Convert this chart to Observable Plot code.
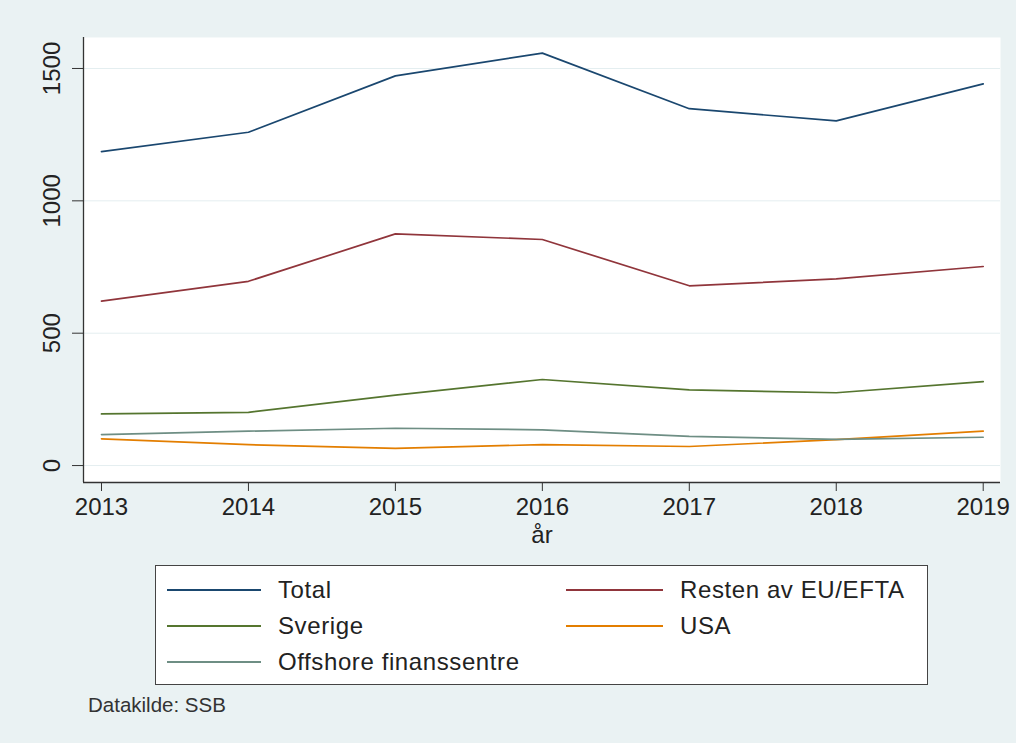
<!DOCTYPE html>
<html>
<head>
<meta charset="utf-8">
<script src="https://cdn.jsdelivr.net/npm/d3@7"></script>
<script src="https://cdn.jsdelivr.net/npm/@observablehq/plot@0.6"></script>
<style>
  html, body { margin: 0; padding: 0; background: #eaf2f3; }
  body { width: 1016px; height: 743px; position: relative; overflow: hidden;
         font-family: "Liberation Sans", Arial, sans-serif; color: #222; }
  #chart { position: absolute; left: 0; top: 0; }
  #legend { position: absolute; left: 155px; top: 565px; width: 771px; height: 118px;
            border: 1px solid #444; background: #fff; }
  .item { position: absolute; display: flex; align-items: center; height: 36px; font-size: 24px; letter-spacing: 0.6px; }
  .item .sw { display: inline-block; height: 2px; margin-right: 17px; }
  #caption { position: absolute; left: 88px; top: 693px; font-size: 20.5px; color: #333; }
</style>
</head>
<body>
<div id="chart"></div>
<div id="legend"></div>
<div id="caption">Datakilde: SSB</div>
<script>
const years = [2013, 2014, 2015, 2016, 2017, 2018, 2019];
const total    = [1186, 1259, 1472, 1558, 1348, 1302, 1442];
const resten   = [621, 696, 875, 854, 679, 705, 752];
const sverige  = [195, 201, 266, 325, 286, 275, 317];
const usa      = [101, 79, 65, 79, 72, 98, 130];
const offshore = [117, 130, 141, 135, 110, 99, 107];
const seriesNames = ["Total", "Resten av EU/EFTA", "Sverige", "USA", "Offshore finanssentre"];
const seriesColors = ["#1a476f", "#90353b", "#55752f", "#e37e00", "#6e8e84"];
const yTicks = [0, 500, 1000, 1500];
const xDomain = [2012.8776, 2019.1177];
const yDomain = [-64, 1617];

const seriesValues = [total, resten, sverige, usa, offshore];
const rows = [];
seriesNames.forEach((name, i) => {
  years.forEach((yr, j) => rows.push({series: name, year: yr, value: seriesValues[i][j]}));
});

const font = "Liberation Sans, Arial, sans-serif";
const chart = Plot.plot({
  width: 1016,
  height: 560,
  marginLeft: 83,
  marginRight: 16,
  marginTop: 37,
  marginBottom: 78,
  style: {background: "transparent", fontFamily: font, color: "#222"},
  x: {domain: xDomain},
  y: {domain: yDomain},
  color: {domain: seriesNames, range: seriesColors},
  marks: [
    Plot.frame({fill: "#fff", stroke: "none"}),
    Plot.gridY(yTicks, {stroke: "#e4eef0", strokeOpacity: 1, strokeWidth: 1}),
    Plot.axisY(yTicks, {tickSize: 11, tickRotate: -90, tickPadding: 13, fontSize: 24, stroke: "#333", label: null, tickFormat: d => String(d)}),
    Plot.axisX(years, {tickSize: 9, tickPadding: 6, fontSize: 24, stroke: "#333", label: null, tickFormat: d => String(d)}),
    Plot.ruleX([xDomain[0]], {stroke: "#333", strokeWidth: 1.3}),
    Plot.ruleY([yDomain[0]], {stroke: "#333", strokeWidth: 1.3}),
    Plot.line(rows, {x: "year", y: "value", z: "series", stroke: "series", strokeWidth: 1.7}),
    Plot.text(["år"], {frameAnchor: "bottom", dy: 53, lineAnchor: "middle", fontSize: 24, text: d => d, fill: "#222"})
  ]
});
document.getElementById("chart").appendChild(chart);

const legend = document.getElementById("legend");
const pos = [
  {left: 11, top: 6, w: 94},
  {left: 410, top: 6, w: 97},
  {left: 11, top: 42, w: 94},
  {left: 410, top: 42, w: 97},
  {left: 11, top: 78, w: 94}
];
seriesNames.forEach((name, i) => {
  const d = document.createElement("div");
  d.className = "item";
  d.style.left = pos[i].left + "px";
  d.style.top = pos[i].top + "px";
  const sw = document.createElement("span");
  sw.className = "sw";
  sw.style.width = pos[i].w + "px";
  sw.style.background = seriesColors[i];
  const t = document.createElement("span");
  t.textContent = name;
  d.appendChild(sw);
  d.appendChild(t);
  legend.appendChild(d);
});
</script>
</body>
</html>
